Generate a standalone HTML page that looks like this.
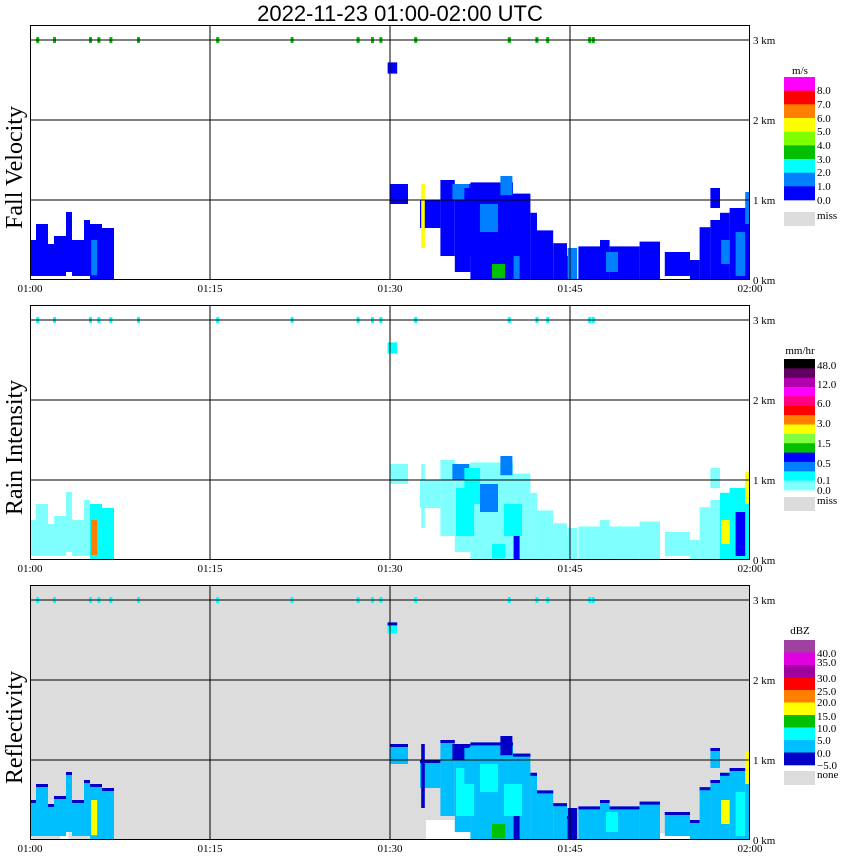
<!DOCTYPE html>
<html><head><meta charset="utf-8">
<style>
html,body{margin:0;padding:0;background:#fff;}
svg{display:block;}
text{font-family:"Liberation Serif",serif;}
</style></head>
<body>
<svg id="chart" width="850" height="868" viewBox="0 0 850 868" xmlns="http://www.w3.org/2000/svg">
<text x="400" y="21" text-anchor="middle" style="font-family:'Liberation Sans',sans-serif;font-size:22px">2022-11-23  01:00-02:00 UTC</text>
</svg>
<script>
// ---- data: echo segments (minutes after 01:00, heights in km) ----
const segStart = [0,0.5,1.5,2,3,3.5,4.5,5,6, 30,32.5,34.2,35.4,36.7,40.25,41.7,42.25,43.6,44.75,45.7,47.5,48.3,50.8,52.9,55,55.8,56.7,56.7,57.5,58.3, 29.8];
const segEnd   = [0.5,1.5,2,3,3.5,4.5,5,6,7, 31.5,34.2,35.4,36.7,40.25,41.7,42.25,43.6,44.75,45.4,47.5,48.3,50.8,52.5,55,55.8,56.7,57.5,57.5,58.3,60, 30.6];
const segBot   = [0.05,0.05,0.05,0.05,0.1,0.05,0.05,0,0, 0.95,0.65,0.3,0.1,0,0,0,0,0,0,0,0,0,0,0.05,0,0,0,0.9,0,0, 2.58];
const segTop   = [0.5,0.7,0.45,0.55,0.85,0.5,0.75,0.7,0.65, 1.2,1.0,1.25,1.2,1.22,1.08,0.84,0.62,0.46,0.3,0.42,0.5,0.42,0.48,0.35,0.25,0.66,0.75,1.15,0.84,0.9, 2.72];
const segVel   = [0.5,0.5,0.5,0.5,0.5,0.5,0.5,0.5,0.5, 0.5,0.5,0.5,0.5,0.5,0.5,0.5,0.5,0.5,0.5,0.5,0.5,0.5,0.5,0.5,0.5,0.5,0.5,0.5,0.5,0.5, 0.5];
const segRain  = [0.05,0.05,0.05,0.05,0.05,0.05,0.05,0.2,0.2, 0.05,0.05,0.05,0.05,0.05,0.05,0.05,0.05,0.05,0.05,0.05,0.05,0.05,0.05,0.05,0.05,0.05,0.05,0.05,0.2,0.2, 0.2];
const segDbz   = [3,3,3,3,3,3,3,3,3, 3,3,3,3,3,3,3,3,3,3,3,3,3,3,3,3,3,3,3,3,3, 7];
// ---- spots (embedded cells) ----
const spotStart = [5.1,35.2,37.5,39.2,40.3,38.5,57.6,58.8,32.6,44.8,48,35.5,59.6,36.2,39.5];
const spotEnd   = [5.6,36.6,39,40.2,40.8,39.6,58.3,59.6,32.9,45.6,49,37,60,37.5,41];
const spotBot   = [0.06,1.0,0.6,1.06,0,0.02,0.2,0.05,0.4,0,0.1,0.3,0.7,0.7,0.3];
const spotTop   = [0.5,1.2,0.95,1.3,0.3,0.2,0.5,0.6,1.2,0.4,0.35,0.9,1.1,1.15,0.7];
const spotVel   = [1.5,1.5,1.5,1.5,1.5,3.5,1.5,1.5,5.5,1.5,1.5,0.5,1.5,0.5,0.5];
const spotRain  = [4,0.4,0.4,0.4,0.7,0.2,2,0.7,0.05,0.05,0.05,0.2,2.2,0.2,0.2];
const spotDbz   = [17,-2,7,-2,-2,12,17,8,-2,-2,7,7,16,3,7];
// ---- white (no-signal) patches on reflectivity panel ----
const whiteStart = [33,35.5,37.5,44,47,51,53.5,2.5,6.2];
const whiteEnd   = [35.5,37.5,41,45.5,50,53.5,55.5,3.2,7];
const whiteBot   = [0,0,0,0,0,0,0,0,0];
const whiteTop   = [0.25,0.1,0.04,0.08,0.05,0.08,0.1,0.15,0.1];
// ---- dots on 3 km line (minutes) ----
const dotTimes = [0.6,2,5,5.7,6.7,9,15.6,21.8,27.3,28.5,29.2,32.1,39.9,42.2,43.1,46.6,46.9];
// ---- axis ticks ----
const timeTicks = ["01:00","01:15","01:30","01:45","02:00"];
const tickMinutes = [0,15,30,45,60];
const heightTicks = [0,1,2,3];
// ---- colour scales ----
const velBounds = [1,2,3,4,5,6,7,8];
const velColors = ["#0000ff","#0080ff","#00ffff","#00c000","#80ff00","#ffff00","#ff8000","#ff0000","#ff00ff"];
const rainBounds = [0.1,0.3,0.5,1,1.5,2,3,4.5,6,9,12,24,48];
const rainColors = ["#80ffff","#00ffff","#0080ff","#0000ff","#00c000","#80ff40","#ffff00","#ff8000","#ff0000","#ff0080","#ff00ff","#b000b0","#600060","#000000"];
const dbzBounds = [-5,0,5,10,15,20,25,30,35,40];
const dbzColors = ["#0000c8","#0000c8","#00bfff","#00ffff","#00c000","#ffff00","#ff8000","#ff0000","#a000a0","#e000e0","#a040a0"];

const NS="http://www.w3.org/2000/svg";
const svg=document.getElementById('chart');
const X0=30,X1=750;
const panels=[{top:25,base:280,title:"Fall Velocity",bg:"#ffffff",key:"vel"},
              {top:305,base:560,title:"Rain Intensity",bg:"#ffffff",key:"rain"},
              {top:585,base:840,title:"Reflectivity",bg:"#dcdcdc",key:"dbz"}];
function xs(m){return X0+m*(X1-X0)/60;}
function ys(p,km){return p.base-km*80;}
function colorFor(key,v){
  let b,c;
  if(key==="vel"){b=velBounds;c=velColors;} else if(key==="rain"){b=rainBounds;c=rainColors;} else {b=dbzBounds;c=dbzColors;}
  let i=0; while(i<b.length && v>=b[i]) i++; return c[i];
}
function el(tag,attrs,parent){const e=document.createElementNS(NS,tag);for(const k in attrs)e.setAttribute(k,attrs[k]);(parent||svg).appendChild(e);return e;}
function valsFor(key){return key==="vel"?[segVel,spotVel]:key==="rain"?[segRain,spotRain]:[segDbz,spotDbz];}

panels.forEach((p,pi)=>{
  const g=el('g',{});
  
  
  const bg=el('rect',{x:X0,y:p.top,width:X1-X0,height:p.base-p.top,fill:p.bg},g);
  
  
  const [sv,pv]=valsFor(p.key);
  if(p.key==="dbz"){
    for(let i=0;i<whiteStart.length;i++){
      const r=el('rect',{x:xs(whiteStart[i]),y:ys(p,whiteTop[i]),width:xs(whiteEnd[i])-xs(whiteStart[i]),height:(whiteTop[i]-whiteBot[i])*80,fill:"#ffffff"},g);
      
      
    }
  }
  for(let i=0;i<segStart.length;i++){
    const bot=segBot[i];
    const r=el('rect',{x:xs(segStart[i]),y:ys(p,segTop[i]),width:xs(segEnd[i])-xs(segStart[i]),height:(segTop[i]-bot)*80,fill:colorFor(p.key,sv[i])},g);
    
    
    if(p.key==="dbz"){
      const e=el('rect',{x:xs(segStart[i]),y:ys(p,segTop[i]),width:xs(segEnd[i])-xs(segStart[i]),height:3,fill:"#0000c8"},g);
      
      
    }
  }
  for(let i=0;i<spotStart.length;i++){
    const r=el('rect',{x:xs(spotStart[i]),y:ys(p,spotTop[i]),width:xs(spotEnd[i])-xs(spotStart[i]),height:(spotTop[i]-spotBot[i])*80,fill:colorFor(p.key,pv[i])},g);
    
    
  }
  for(let i=0;i<dotTimes.length;i++){
    const d=el('rect',{x:xs(dotTimes[i])-1,y:ys(p,3)-3,width:3,height:6,fill:p.key==="vel"?"#00c000":"#00ffff"},g);
    
    
  }
  heightTicks.forEach(h=>{
    if(h>0){const l=el('line',{x1:X0,x2:X1,y1:ys(p,h),y2:ys(p,h),stroke:"#000","stroke-width":1},g);
      
      }
    const t=el('text',{x:753,y:ys(p,h)+4,"font-size":11},g);
    t.textContent=h+" km";
    
    
  });
  tickMinutes.forEach((m,k)=>{
    if(m>0&&m<60){const l=el('line',{x1:xs(m),x2:xs(m),y1:p.top,y2:p.base,stroke:"#000","stroke-width":1},g);
      
      }
    const t=el('text',{x:xs(m),y:p.base+12,"font-size":11,"text-anchor":"middle"},g);
    t.textContent=timeTicks[k];
    
    
  });
  const fr=el('rect',{x:X0+0.5,y:p.top+0.5,width:X1-X0-1,height:p.base-p.top-1,fill:"none",stroke:"#000","stroke-width":1},g);
  
  
  const cy=(p.top+p.base)/2+15;
  const yt=el('text',{x:22,y:cy,"font-size":24,"text-anchor":"middle",transform:`rotate(-90 22 ${cy})`},g);
  yt.textContent=p.title;
  
  
});

function colorbar(cols,top,blockH,unit,unitY,labels,labelYs,missText,missY){
  const g=el('g',{});
  
  
  const u=el('text',{x:800,y:unitY,"font-size":11,"text-anchor":"middle"},g);
  u.textContent=unit;
  
  
  cols.forEach((c,i)=>{
    const r=el('rect',{x:784,y:top+i*blockH,width:31,height:blockH+0.3,fill:c},g);
    
    
  });
  labels.forEach((s,i)=>{
    const t=el('text',{x:817,y:labelYs[i]+4,"font-size":11},g);
    t.textContent=s;
    
    
  });
  const m=el('rect',{x:784,y:missY-5,width:31,height:14,fill:"#dcdcdc"},g);
  
  
  const mt=el('text',{x:817,y:missY+2,"font-size":11},g);
  mt.textContent=missText;
  
  
}
colorbar(velColors.slice().reverse(),77,13.67,"m/s",74,["8.0","7.0","6.0","5.0","4.0","3.0","2.0","1.0","0.0"],[90,104,118,131,145,159,172,186,200],"miss",217);
colorbar(rainColors.slice().reverse(),359,9.36,"mm/hr",354,["48.0","12.0","6.0","3.0","1.5","0.5","0.1","0.0"],[365,384,403,423,443,463,480,490],"miss",502);
colorbar(dbzColors.slice(1).reverse(),640,12.5,"dBZ",634,["40.0","35.0","30.0","25.0","20.0","15.0","10.0","5.0","0.0","\u22125.0"],[653,662,678,691,702,716,728,740,753,765],"none",776);
</script>
</body></html>
